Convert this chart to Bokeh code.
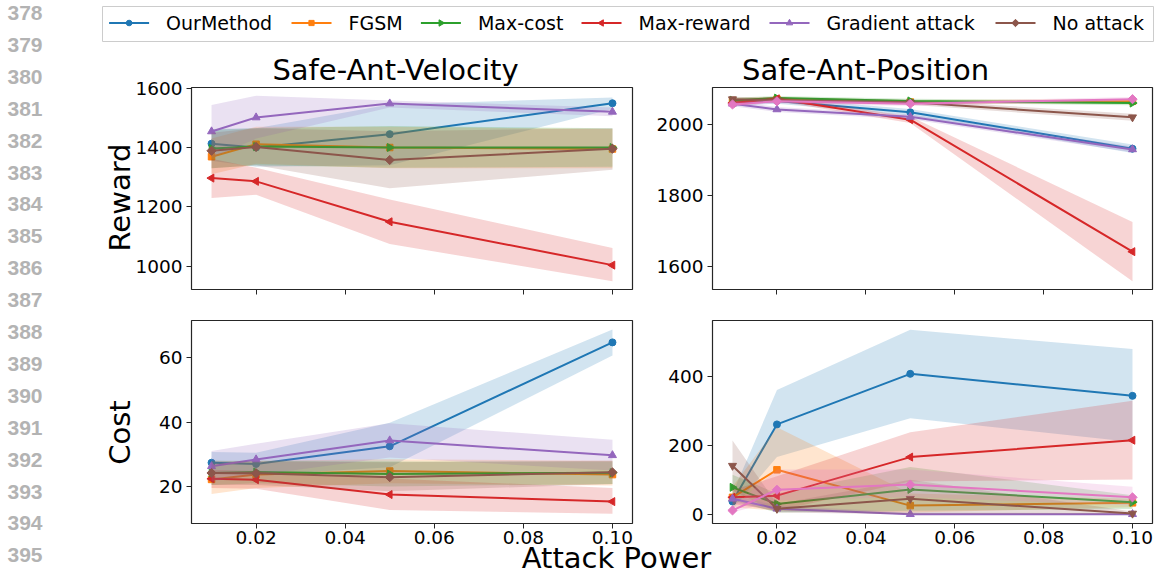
import math
from bokeh.plotting import figure
from bokeh.models import GridBox, Range1d, FixedTicker, NumeralTickFormatter
from bokeh.core.properties import value
from bokeh.embed import file_html
from bokeh.resources import INLINE

# ---------------- data ----------------
attack_power = [0.01, 0.02, 0.05, 0.10]
x_tick_values = [0.02, 0.04, 0.06, 0.08, 0.10]
vel_reward_ticks = [1000, 1200, 1400, 1600]
pos_reward_ticks = [1600, 1800, 2000]
vel_cost_ticks = [20, 40, 60]
pos_cost_ticks = [0, 200, 400]

legend_labels = ["OurMethod", "FGSM", "Max-cost", "Max-reward", "Gradient attack", "No attack"]
panel_titles = ["Safe-Ant-Velocity", "Safe-Ant-Position"]
row_labels = ["Reward", "Cost"]
x_label = "Attack Power"
line_numbers = list(range(378, 396))

# Safe-Ant-Velocity, reward  (OurMethod, FGSM, Max-cost, Max-reward, Gradient attack, No attack)
vel_reward_mean = [
    [1413, 1400, 1445, 1549],
    [1369, 1411, 1400, 1395],
    [1397, 1403, 1400, 1400],
    [1297, 1286, 1150, 1004],
    [1454, 1501, 1548, 1520],
    [1389, 1402, 1358, 1396],
]
vel_reward_lo = [
    [1355, 1335, 1340, 1530],
    [1310, 1345, 1330, 1330],
    [1330, 1340, 1332, 1335],
    [1230, 1241, 1075, 950],
    [1365, 1430, 1535, 1505],
    [1330, 1340, 1263, 1325],
]
vel_reward_hi = [
    [1462, 1465, 1545, 1568],
    [1430, 1470, 1470, 1462],
    [1460, 1465, 1472, 1465],
    [1362, 1332, 1225, 1062],
    [1543, 1574, 1558, 1535],
    [1450, 1465, 1455, 1465],
]

# Safe-Ant-Position, reward (OurMethod, FGSM, Max-cost, Max-reward, Gradient attack, brown, pink)
pos_reward_mean = [
    [2062, 2067, 2035, 1932],
    [2068, 2072, 2064, 2066],
    [2069, 2075, 2067, 2061],
    [2061, 2073, 2014, 1641],
    [2059, 2043, 2022, 1930],
    [2072, 2069, 2063, 2021],
    [2057, 2066, 2059, 2072],
]
pos_reward_lo = [
    [2054, 2059, 2026, 1920],
    [2061, 2066, 2058, 2060],
    [2062, 2069, 2061, 2055],
    [2053, 2066, 2005, 1557],
    [2052, 2036, 2015, 1922],
    [2065, 2062, 2056, 2011],
    [2051, 2060, 2053, 2066],
]
pos_reward_hi = [
    [2070, 2075, 2044, 1944],
    [2075, 2078, 2070, 2072],
    [2076, 2081, 2073, 2067],
    [2069, 2080, 2023, 1725],
    [2066, 2050, 2029, 1938],
    [2079, 2076, 2070, 2031],
    [2063, 2072, 2065, 2078],
]

# Safe-Ant-Velocity, cost
vel_cost_mean = [
    [27.4, 27.0, 32.5, 64.8],
    [22.2, 23.7, 24.8, 23.7],
    [24.2, 24.5, 23.9, 24.3],
    [22.4, 22.1, 17.5, 15.3],
    [26.3, 28.4, 34.3, 29.7],
    [24.2, 24.1, 22.9, 24.4],
]
vel_cost_lo = [
    [24.0, 23.5, 26.0, 60.7],
    [17.7, 19.5, 21.0, 20.3],
    [20.5, 21.0, 20.0, 20.8],
    [19.5, 19.3, 12.7, 11.5],
    [21.6, 23.5, 29.0, 25.0],
    [20.5, 20.5, 18.5, 20.8],
]
vel_cost_hi = [
    [30.7, 30.5, 39.8, 68.8],
    [27.0, 28.0, 28.5, 28.0],
    [28.0, 28.0, 27.8, 27.8],
    [25.2, 24.8, 22.5, 19.5],
    [31.0, 33.3, 39.7, 34.5],
    [28.0, 27.8, 27.5, 28.0],
]

# Safe-Ant-Position, cost
pos_cost_mean = [
    [37, 261, 408, 344],
    [49, 129, 25, 33],
    [78, 30, 72, 35],
    [49, 54, 166, 215],
    [45, 16, 0, 0],
    [141, 16, 45, 2],
    [11, 71, 86, 49],
]
pos_cost_lo = [
    [15, 166, 279, 210],
    [20, 10, 5, 20],
    [40, 5, 10, 15],
    [30, 10, 95, 101],
    [35, 8, 0, 0],
    [70, 5, 0, 0],
    [5, 40, 50, 25],
]
pos_cost_hi = [
    [60, 361, 536, 480],
    [80, 253, 60, 45],
    [115, 60, 137, 55],
    [70, 110, 238, 330],
    [55, 25, 5, 3],
    [214, 30, 100, 8],
    [20, 130, 130, 80],
]

# ---------------- styles ----------------
FONT = "DejaVu Sans"
PALETTE = ["#1f77b4", "#ff7f0e", "#2ca02c", "#d62728", "#9467bd", "#8c564b", "#e377c2"]
MK = {
    "o": ("circle", 0.0, 7.0),
    "s": ("square", 0.0, 6.5),
    ">": ("triangle", -math.pi / 2, 8.0),
    "<": ("triangle", math.pi / 2, 8.0),
    "^": ("triangle", 0.0, 8.0),
    "v": ("inverted_triangle", 0.0, 8.0),
    "D": ("square", math.pi / 4, 6.5),
}
left_markers = ["o", "s", ">", "<", "^", "D"]
right_markers = ["o", "s", ">", "<", "^", "v", "D"]
X_RANGE = (0.0055, 0.1045)

PAGE_W, PAGE_H = 1155, 575
SPLIT_X, SPLIT_Y = 640, 318
BIG = "29px"

# legend layout (page pixels): handle starts, handle length, text gap
LEG_BOX = (102, 1153, 6, 41)
LEG_HANDLE_X = [108.6, 291, 420.4, 581, 769, 995]
LEG_HANDLE_LEN = 40
LEG_TEXT_GAP = 17
LEG_Y = 22.5


def panel(yr, yticks, width, height, ml, mr, mt, mb, show_x, means, los, his, markers):
    p = figure(width=width, height=height, x_range=Range1d(*X_RANGE), y_range=Range1d(*yr),
               toolbar_location=None, output_backend="svg", title=None,
               min_border_left=ml, min_border_right=mr, min_border_top=mt, min_border_bottom=mb)
    p.xgrid.grid_line_color = None
    p.ygrid.grid_line_color = None
    p.outline_line_color = "#262626"
    p.outline_line_width = 1.2
    for ax in (p.xaxis[0], p.yaxis[0]):
        ax.axis_line_color = None
        ax.major_tick_out = 5
        ax.major_tick_in = 0
        ax.minor_tick_out = 0
        ax.minor_tick_in = 0
        ax.major_tick_line_color = "#262626"
        ax.major_tick_line_width = 1
        ax.major_label_text_font = FONT
        ax.major_label_text_font_size = "18.5px"
        ax.major_label_text_color = "black"
        ax.major_label_standoff = 4
    p.xaxis.ticker = FixedTicker(ticks=x_tick_values)
    p.xaxis.formatter = NumeralTickFormatter(format="0.00")
    p.yaxis.ticker = FixedTicker(ticks=yticks)
    if show_x:
        p.xaxis.major_label_standoff = 2
    else:
        p.xaxis.major_label_text_color = None
        p.xaxis.major_label_standoff = 0
    for i, (m, lo, hi, mk) in enumerate(zip(means, los, his, markers)):
        c = PALETTE[i]
        p.varea(x=attack_power, y1=lo, y2=hi, fill_color=c, fill_alpha=0.2)
        p.line(x=attack_power, y=m, line_color=c, line_width=2)
        name, ang, sz = MK[mk]
        p.scatter(x=attack_power, y=m, marker=name, angle=ang, size=sz, fill_color=c, line_color=c)
    return p


LW, RW = SPLIT_X, PAGE_W - SPLIT_X
TH, BH = SPLIT_Y, PAGE_H - SPLIT_Y
tl = panel((922, 1602), vel_reward_ticks, LW, TH, 191, 8, 87, 29, False,
           vel_reward_mean, vel_reward_lo, vel_reward_hi, left_markers)
tr = panel((1534, 2105), pos_reward_ticks, RW, TH, 72, 3, 87, 29, False,
           pos_reward_mean, pos_reward_lo, pos_reward_hi, right_markers)
bl = panel((8.5, 71.6), vel_cost_ticks, LW, BH, 191, 8, 2, 52, True,
           vel_cost_mean, vel_cost_lo, vel_cost_hi, left_markers)
br = panel((-27, 563), pos_cost_ticks, RW, BH, 72, 3, 2, 52, True,
           pos_cost_mean, pos_cost_lo, pos_cost_hi, right_markers)

# ---------------- overlay with page texts & legend ----------------
ovl = figure(width=PAGE_W, height=PAGE_H, x_range=Range1d(0, PAGE_W), y_range=Range1d(0, PAGE_H),
             toolbar_location=None, output_backend="svg", title=None,
             x_axis_type=None, y_axis_type=None, min_border=0,
             outline_line_color=None, background_fill_color=None, border_fill_color=None)
ovl.frame_align = False


def oy(py):
    return PAGE_H - py


# line numbers
ln_y = [oy(12.5 + 31.9 * k) for k in range(len(line_numbers))]
ovl.text(x=[7] * len(line_numbers), y=ln_y, text=[str(n) for n in line_numbers],
         text_font=value("Liberation Sans"), text_font_style="bold", text_font_size=value("21px"),
         text_color="#b3b3b3", text_align="left", text_baseline="middle")

# titles
ovl.text(x=[395, 865], y=[oy(69), oy(69)], text=panel_titles,
         text_font=value(FONT), text_font_size=value(BIG), text_color="black",
         text_align="center", text_baseline="alphabetic")

# row labels
ovl.text(x=[119, 119], y=[oy(197), oy(432)], text=row_labels, angle=math.pi / 2,
         text_font=value(FONT), text_font_size=value(BIG), text_color="black",
         text_align="center", text_baseline="middle")

# x label
ovl.text(x=[616], y=[oy(557)], text=[x_label],
         text_font=value(FONT), text_font_size=value(BIG), text_color="black",
         text_align="center", text_baseline="alphabetic")

# legend (drawn by hand so that rotated markers show as in the panels)
bl_, br_, bt_, bb_ = LEG_BOX
ovl.quad(left=[bl_], right=[br_], top=[oy(bt_)], bottom=[oy(bb_)],
         fill_color="white", line_color="#cccccc", line_width=1)
hx0 = LEG_HANDLE_X
hx1 = [h + LEG_HANDLE_LEN for h in hx0]
hy = [oy(LEG_Y)] * len(hx0)
ovl.segment(x0=hx0, y0=hy, x1=hx1, y1=hy, line_color=PALETTE[:len(hx0)], line_width=2)
for i in range(len(legend_labels)):
    name, ang, sz = MK[left_markers[i]]
    ovl.scatter(x=[hx0[i] + LEG_HANDLE_LEN / 2], y=[oy(LEG_Y)], marker=name, angle=ang,
                size=sz * 0.8, fill_color=PALETTE[i], line_color=PALETTE[i])
ovl.text(x=[h + LEG_HANDLE_LEN + LEG_TEXT_GAP for h in hx0], y=hy, text=legend_labels,
         text_font=value(FONT), text_font_size=value("19px"), text_color="black",
         text_align="left", text_baseline="middle")

grid = GridBox(children=[(tl, 0, 0), (tr, 0, 1), (bl, 1, 0), (br, 1, 1), (ovl, 0, 0, 2, 2)])

open("out.html", "w").write(file_html(grid, INLINE))
